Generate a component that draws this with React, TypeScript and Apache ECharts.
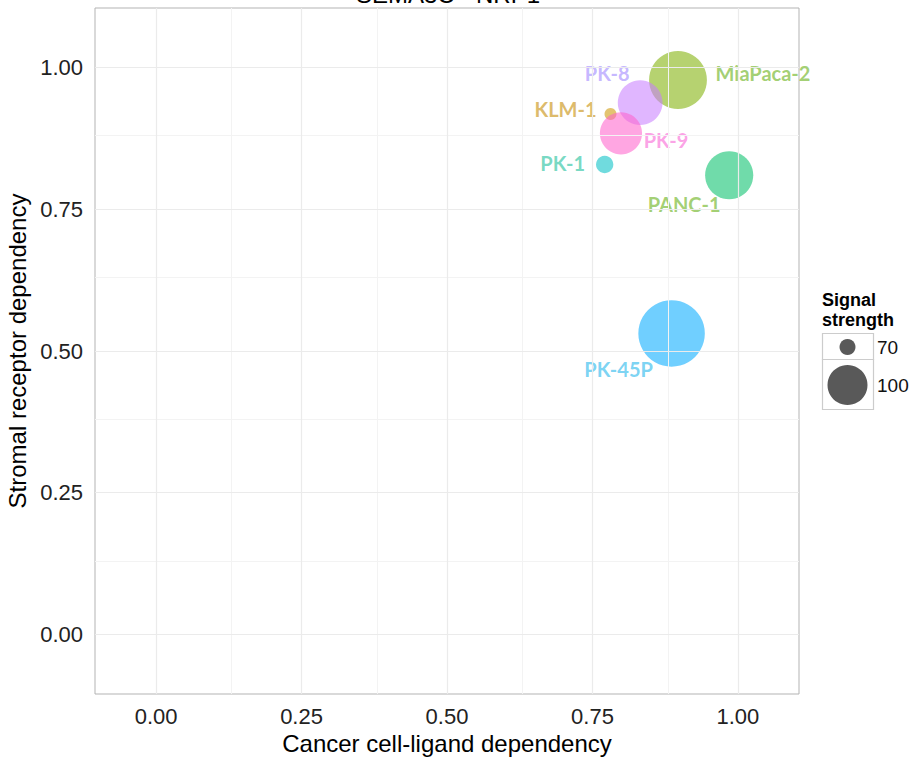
import React, { useEffect, useRef } from "react";
import * as echarts from "echarts";

const cellLines = ["KLM-1", "MiaPaca-2", "PANC-1", "PK-1", "PK-45P", "PK-8", "PK-9"];
const ligandDependency = [0.781, 0.897, 0.985, 0.771, 0.886, 0.832, 0.799];
const receptorDependency = [0.918, 0.978, 0.81, 0.829, 0.531, 0.938, 0.884];
const signalStrength = [67.5, 139, 116, 71, 163, 109, 104];
const tickValues = [0, 0.25, 0.5, 0.75, 1];
const minorGridValues = [0.125, 0.375, 0.625, 0.875];
const legendValues = [70, 100];

const pointColors = [
  "rgba(205,150,0,0.7)",
  "rgba(124,174,0,0.7)",
  "rgba(0,190,103,0.7)",
  "rgba(0,191,196,0.7)",
  "rgba(0,169,255,0.7)",
  "rgba(199,124,255,0.7)",
  "rgba(255,97,204,0.7)",
];
const labelColors = ["#d4a944", "#8bc34f", "#8bc34f", "#55cfb4", "#5ac8f0", "#b7a5ff", "#fb8bdf"];
// label centre offset from point centre, in pixels
const labelOffsets: [number, number][] = [
  [-45, -5],
  [85, -7],
  [-45, 29],
  [-42, -1],
  [-53, 36],
  [-33, -30],
  [45, 7],
];

const sizeFor = (v: number) => 2 * Math.sqrt(Math.max(11.2 * v - 720, 1));

export default function App() {
  const ref = useRef<HTMLDivElement>(null);
  useEffect(() => {
    if (!ref.current) return;
    const chart = echarts.init(ref.current, undefined, { renderer: "svg" });
    const axisFont = "'Liberation Sans', Arial, Helvetica, sans-serif";
    const gridLine = (axis: "xAxis" | "yAxis", v: number) => ({ [axis]: v });
    const legendX = 822;
    const keyW = 51;
    const k1Top = 333;
    const k1H = 26;
    const k2H = 50;
    chart.setOption({
      animation: false,
      backgroundColor: "#ffffff",
      grid: {
        left: 95,
        right: 115,
        top: 8,
        bottom: 63,
        show: true,
        borderColor: "#b3b3b3",
        borderWidth: 1,
        backgroundColor: "#ffffff",
        containLabel: false,
        outerBoundsMode: "none",
      },
      xAxis: {
        type: "value",
        min: -0.105,
        max: 1.105,
        name: "Cancer cell-ligand dependency",
        nameLocation: "middle",
        nameGap: 28,
        nameTextStyle: { fontFamily: axisFont, fontSize: 24, color: "#000" },
        axisLine: { show: false },
        axisTick: { show: true, customValues: tickValues, length: 6, lineStyle: { color: "#555" } },
        axisLabel: {
          customValues: tickValues,
          formatter: (v: number) => v.toFixed(2),
          fontFamily: axisFont,
          fontSize: 22,
          color: "#222",
          margin: 11,
        },
        splitLine: { show: false },
      },
      yAxis: {
        type: "value",
        min: -0.105,
        max: 1.105,
        name: "Stromal receptor dependency",
        nameLocation: "middle",
        nameRotate: 90,
        nameGap: 58,
        nameTextStyle: { fontFamily: axisFont, fontSize: 24, color: "#000" },
        axisLine: { show: false },
        axisTick: { show: true, customValues: tickValues, length: 6, lineStyle: { color: "#555" } },
        axisLabel: {
          customValues: tickValues,
          formatter: (v: number) => v.toFixed(2),
          fontFamily: axisFont,
          fontSize: 22,
          color: "#222",
          margin: 12,
        },
        splitLine: { show: false },
      },
      series: [
        {
          type: "scatter",
          data: [],
          z: 1,
          silent: true,
          markLine: {
            silent: true,
            symbol: "none",
            label: { show: false },
            lineStyle: { color: "#f3f3f3", width: 1, type: "solid" },
            data: [
              ...minorGridValues.map((v) => gridLine("xAxis", v)),
              ...minorGridValues.map((v) => gridLine("yAxis", v)),
            ],
          },
        },
        {
          type: "scatter",
          data: [],
          z: 1,
          silent: true,
          markLine: {
            silent: true,
            symbol: "none",
            label: { show: false },
            lineStyle: { color: "#ebebeb", width: 1.2, type: "solid" },
            data: [
              ...tickValues.map((v) => gridLine("xAxis", v)),
              ...tickValues.map((v) => gridLine("yAxis", v)),
            ],
          },
        },
        {
          type: "scatter",
          z: 3,
          data: cellLines.map((name, i) => ({
            name,
            value: [ligandDependency[i], receptorDependency[i], signalStrength[i]],
            itemStyle: { color: pointColors[i] },
            label: {
              show: true,
              position: "inside",
              offset: labelOffsets[i],
              formatter: name,
              color: labelColors[i],
              fontFamily: "Lato, 'Open Sans', sans-serif",
              fontWeight: "bold",
              fontSize: 20,
            },
          })),
          symbolSize: (val: number[]) => sizeFor(val[2]),
        },
      ],
      graphic: [
        {
          type: "text",
          x: 448,
          y: -6,
          style: {
            text: "SEMA3C - NRP1",
            font: "24px 'Liberation Sans', Arial, sans-serif",
            fill: "#000",
            align: "center",
            verticalAlign: "middle",
          },
        },
        {
          type: "text",
          x: legendX,
          y: 300,
          style: {
            text: "Signal",
            font: "bold 18px 'Liberation Sans', Arial, sans-serif",
            fill: "#000",
            verticalAlign: "middle",
          },
        },
        {
          type: "text",
          x: legendX,
          y: 320,
          style: {
            text: "strength",
            font: "bold 18px 'Liberation Sans', Arial, sans-serif",
            fill: "#000",
            verticalAlign: "middle",
          },
        },
        {
          type: "rect",
          shape: { x: legendX + 0.5, y: k1Top + 0.5, width: keyW, height: k1H },
          style: { fill: "#fff", stroke: "#cccccc", lineWidth: 1.2 },
        },
        {
          type: "rect",
          shape: { x: legendX + 0.5, y: k1Top + k1H + 0.5, width: keyW, height: k2H },
          style: { fill: "#fff", stroke: "#cccccc", lineWidth: 1.2 },
        },
        {
          type: "circle",
          shape: { cx: legendX + keyW / 2, cy: k1Top + k1H / 2 + 1, r: sizeFor(legendValues[0]) / 2 },
          style: { fill: "rgba(0,0,0,0.65)" },
        },
        {
          type: "circle",
          shape: { cx: legendX + keyW / 2, cy: k1Top + k1H + k2H / 2 + 1, r: sizeFor(legendValues[1]) / 2 },
          style: { fill: "rgba(0,0,0,0.65)" },
        },
        {
          type: "text",
          x: legendX + keyW + 4,
          y: k1Top + k1H / 2 + 1,
          style: {
            text: String(legendValues[0]),
            font: "19px 'Liberation Sans', Arial, sans-serif",
            fill: "#111",
            verticalAlign: "middle",
          },
        },
        {
          type: "text",
          x: legendX + keyW + 4,
          y: k1Top + k1H + k2H / 2 + 1,
          style: {
            text: String(legendValues[1]),
            font: "19px 'Liberation Sans', Arial, sans-serif",
            fill: "#111",
            verticalAlign: "middle",
          },
        },
      ],
    });
    return () => chart.dispose();
  }, []);
  return (
    <div
      ref={ref}
      style={{ position: "absolute", left: 0, top: 0, width: 914, height: 757 }}
    />
  );
}
